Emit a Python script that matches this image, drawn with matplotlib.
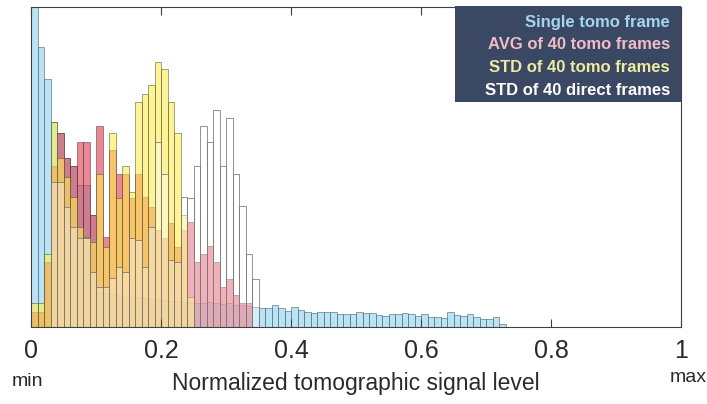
import numpy as np
import matplotlib
matplotlib.use("Agg")
import matplotlib.pyplot as plt

plt.rcParams['font.family'] = ['Liberation Sans', 'DejaVu Sans']

# histogram heights per 0.01 bin (arbitrary counts)
single_tomo = [400, 280, 248, 205, 194, 169, 161, 142, 142, 112,
               35, 34, 33, 32, 31, 30, 30, 29, 28, 27,
               27, 26, 26, 25, 25, 24, 24, 25, 24, 23,
               24, 22, 22, 21, 20,
               19, 19, 22, 19, 16, 20, 17, 15, 14, 15,
               15, 15, 13, 13, 13, 15, 14, 14, 12, 11,
               13, 13, 14, 13, 11, 13, 10, 10, 9, 15,
               12, 11, 13, 10, 8, 8, 10, 3]
avg_tomo = [15, 15, 65, 161, 194, 169, 161, 185, 185, 112,
            201, 90, 177, 153, 153, 129, 153, 130, 120, 97,
            89, 104, 80, 97, 105, 65, 73, 81, 65, 40,
            48, 32, 24, 24]
std_tomo = [24, 24, 73, 205, 169, 150, 130, 100, 90, 85,
            153, 80, 194, 129, 161, 135, 225, 233, 242, 265,
            258, 225, 194, 112, 30]
std_direct = [0, 0, 0, 145, 145, 120, 100, 89, 89, 55,
              40, 40, 49, 60, 55, 89, 87, 60, 100, 185,
              153, 67, 65, 130, 129, 161, 201, 185, 217, 161,
              209, 153, 121, 73, 48]

labels = ['Single tomo frame', 'AVG of 40 tomo frames',
          'STD of 40 tomo frames', 'STD of 40 direct frames']
label_colors = ['#a6d6ee', '#f2bcc6', '#ececa0', '#ffffff']

bin_w = 0.01

fig = plt.figure(figsize=(7.07, 4.04), dpi=100)
ax = fig.add_axes([31 / 707, 77 / 404, 650 / 707, 320 / 404])

series = [(single_tomo, (0.55, 0.82, 0.94, 0.6), (0.3, 0.4, 0.45, 0.7)),
          (avg_tomo, (0.88, 0.22, 0.30, 0.6), (0.3, 0.2, 0.2, 0.6)),
          (std_tomo, (1.0, 0.93, 0.31, 0.6), (0.3, 0.3, 0.2, 0.6)),
          (std_direct, (1.0, 1.0, 1.0, 0.35), (0.45, 0.45, 0.45, 0.9))]
for vals, fc, ec in series:
    x = np.arange(len(vals)) * bin_w
    ax.bar(x, vals, width=bin_w, align='edge', facecolor=fc,
           edgecolor=ec, linewidth=0.6)

ax.set_xlim(0, 1)
ax.set_ylim(0, 320)
ax.set_yticks([])
ax.set_xticks([0, 0.2, 0.4, 0.6, 0.8, 1])
ax.set_xticklabels(['0', '0.2', '0.4', '0.6', '0.8', '1'])
ax.tick_params(axis='x', direction='in', top=True, length=6, width=0.8,
               color='#404040', labelsize=18, pad=9, labelcolor='#2a2a2a')
for s in ax.spines.values():
    s.set_color('#404040')
    s.set_linewidth(0.8)

ax.set_xlabel('Normalized tomographic signal level', fontsize=16.5,
              color='#2a2a2a', labelpad=6)
fig.text(27 / 707, 1 - 381 / 404, 'min', fontsize=14, ha='center',
         va='center', color='#2a2a2a')
fig.text(688 / 707, 1 - 377 / 404, 'max', fontsize=14, ha='center',
         va='center', color='#2a2a2a')

# legend: dark panel with coloured text
fig.patches.append(plt.Rectangle((455 / 707, 1 - 102 / 404),
                                 226 / 707, 96 / 404,
                                 transform=fig.transFigure,
                                 facecolor='#3b4863', edgecolor='none',
                                 zorder=5))
for i, (t, c) in enumerate(zip(labels, label_colors)):
    fig.text(670 / 707, 1 - (22 + 22.7 * i) / 404, t, fontsize=12,
             fontweight='bold', color=c, ha='right', va='center', zorder=6)

fig.savefig('out.png', dpi=100)
